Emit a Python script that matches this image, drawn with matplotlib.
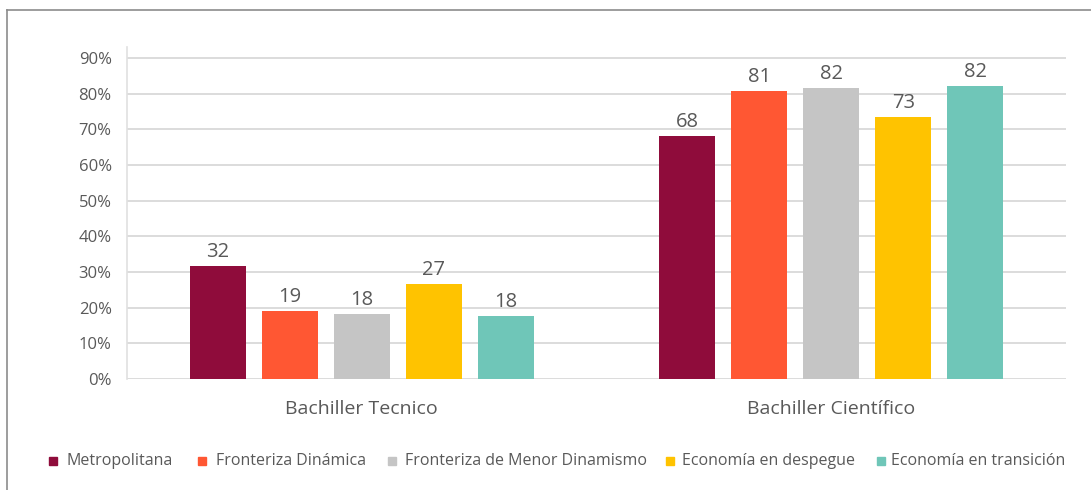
import matplotlib
matplotlib.use("Agg")
import matplotlib.pyplot as plt
from matplotlib.patches import Rectangle
from matplotlib.lines import Line2D
import numpy as np

categories = ["Bachiller Tecnico", "Bachiller Científico"]
series = ["Metropolitana", "Fronteriza Dinámica", "Fronteriza de Menor Dinamismo",
          "Economía en despegue", "Economía en transición"]
values = {
    "Metropolitana": [31.7, 68.1],
    "Fronteriza Dinámica": [19.1, 80.7],
    "Fronteriza de Menor Dinamismo": [18.2, 81.6],
    "Economía en despegue": [26.6, 73.5],
    "Economía en transición": [17.7, 82.1],
}
labels = {
    "Metropolitana": ["32", "68"],
    "Fronteriza Dinámica": ["19", "81"],
    "Fronteriza de Menor Dinamismo": ["18", "82"],
    "Economía en despegue": ["27", "73"],
    "Economía en transición": ["18", "82"],
}
colors = ["#8F0C3B", "#FF5733", "#C5C5C5", "#FFC300", "#6FC6B8"]
yticks = [0, 10, 20, 30, 40, 50, 60, 70, 80, 90]

plt.rcParams['font.family'] = ['Open Sans', 'DejaVu Sans']
TXT = "#595959"

fig = plt.figure(figsize=(10.91, 4.90), dpi=100)
ax = fig.add_axes([127/1091, 1-379/490, (1066-127)/1091, (379-47)/490])

x = np.arange(len(categories))
step = 72/469.5
width = 56/469.5
for i, s in enumerate(series):
    pos = x + (i - 2) * step
    bars = ax.bar(pos, values[s], width, color=colors[i], zorder=3)
    for b, lab in zip(bars, labels[s]):
        ax.annotate(lab, (b.get_x() + b.get_width()/2, b.get_height()),
                    xytext=(0, 3), textcoords="offset points",
                    ha="center", va="bottom", fontsize=14.5, color=TXT)

ax.set_xlim(-0.5, 1.5)
ax.set_ylim(0, 93.1)
ax.set_yticks(yticks)
ax.set_yticklabels([f"{t}%" for t in yticks])
ax.set_xticks(x)
ax.set_xticklabels(categories)
ax.tick_params(axis="y", length=0, labelsize=12, colors=TXT, pad=11)
ax.tick_params(axis="x", length=0, labelsize=14, colors=TXT, pad=15)
ax.grid(axis="y", color="#D9D9D9", linewidth=1.3, zorder=0)
for sp in ["top", "right", "bottom"]:
    ax.spines[sp].set_visible(False)
ax.spines["left"].set_color("#E0E0E0")
ax.spines["left"].set_linewidth(1.2)

# outer frame lines
fig.add_artist(Line2D([7/1091, 1], [1-10/490, 1-10/490], color="#8C8C8C", lw=1.2,
                      transform=fig.transFigure))
fig.add_artist(Line2D([7/1091, 7/1091], [0, 1-10/490], color="#8C8C8C", lw=1.2,
                      transform=fig.transFigure))

# legend
leg_sq = [49, 198, 388, 666, 877]
leg_tx = [67, 216, 405, 682, 891]
ly = 461
for i, s in enumerate(series):
    fig.add_artist(Rectangle((leg_sq[i]/1091, 1-(ly+4)/490), 8/1091, 8/490,
                             color=colors[i], transform=fig.transFigure))
    fig.text(leg_tx[i]/1091, 1-ly/490, s, ha="left", va="center",
             fontsize=11.5, color=TXT)

fig.savefig("out.png", dpi=100)
